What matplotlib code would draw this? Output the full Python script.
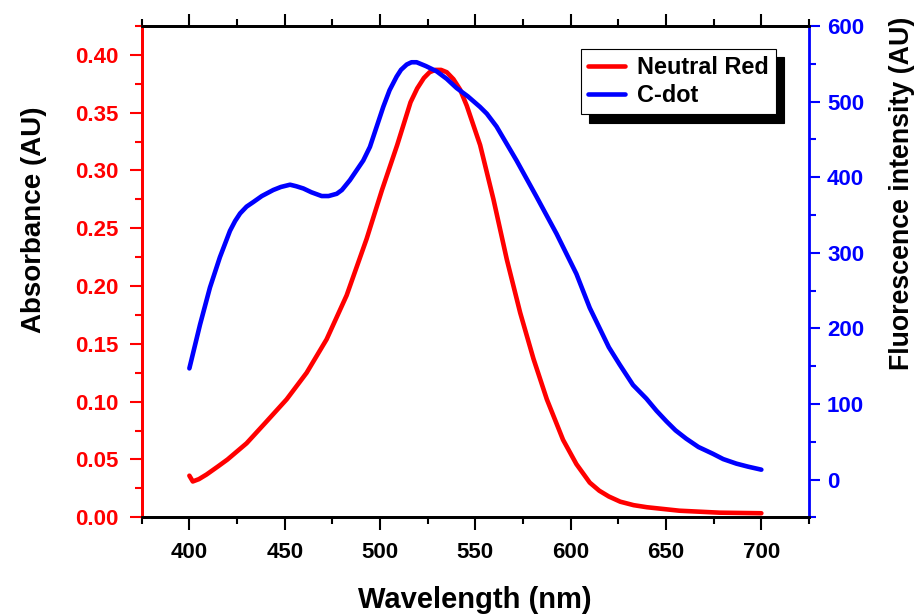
"""
Absorbance of Neutral Red and fluorescence of C-dots vs wavelength
"""
import matplotlib
matplotlib.use('Agg')
import matplotlib.pyplot as plt

plt.rcParams['font.family'] = ['Liberation Sans', 'DejaVu Sans']
plt.rcParams['font.weight'] = 'bold'

# Neutral Red absorbance (left axis)
nr_wl = [400, 401.8, 405, 409, 415, 420, 430, 440, 451, 461.5, 472, 482.5,
         493, 501, 509, 516, 519.5, 523, 526, 529, 532, 535, 538.5, 542, 545.5,
         552.5, 559.5, 566.5, 573.5, 580.5, 587.5, 596, 603, 610, 615, 620,
         626, 633, 640, 657, 678, 700]
nr_abs = [0.036, 0.031, 0.033, 0.037, 0.044, 0.050, 0.064, 0.082, 0.102, 0.125,
          0.154, 0.192, 0.241, 0.283, 0.322, 0.359, 0.371, 0.380, 0.385, 0.387,
          0.387, 0.385, 0.379, 0.370, 0.356, 0.322, 0.275, 0.223, 0.177, 0.137,
          0.102, 0.067, 0.046, 0.030, 0.023, 0.018, 0.0135, 0.0105, 0.0087,
          0.0057, 0.004, 0.0035]

# C-dot fluorescence (right axis)
cd_wl = [400, 405.6, 410.8, 416, 421.3, 424, 426.6, 430, 433.5, 438, 444, 448,
         452.8, 456, 459.8, 464, 469.4, 473, 477.3, 480, 484.2, 491.2, 494.7,
         501.7, 505, 508.7, 511, 514, 516.5, 519.2, 524, 529.7, 535, 540.1,
         546, 552.4, 556, 561.1, 571.6, 582.1, 592.6, 603, 610, 615.2, 620,
         625.7, 632.7, 639.7, 645, 650.2, 655, 660.6, 667, 674.6, 680, 686.9,
         693, 700]
cd_fl = [147, 205, 254, 294, 329, 342, 352, 361, 367, 375, 383, 387, 390, 388,
         385, 380, 375, 375, 378, 383, 396, 422, 440, 493, 515, 533, 542, 549,
         552, 552, 547, 540, 530, 518, 507, 493, 484, 467, 422, 374, 325, 272,
         227, 200, 175, 152, 125, 107, 91, 77, 65, 54, 43, 34, 27, 21, 17, 13]

fig = plt.figure(figsize=(9.16, 6.14), dpi=100)
ax1 = fig.add_axes([0.1547, 0.1575, 0.7285, 0.8002])
ax2 = ax1.twinx()

l1, = ax1.plot(nr_wl, nr_abs, color='red', lw=3.3, solid_joinstyle='round',
               solid_capstyle='round', label='Neutral Red')
l2, = ax2.plot(cd_wl, cd_fl, color='blue', lw=3.3, solid_joinstyle='round',
               solid_capstyle='round', label='C-dot')

ax1.set_xlim(375, 725)
ax1.set_ylim(0, 0.425)
ax2.set_ylim(-50, 600)

ax1.set_xticks(range(400, 701, 50))
ax1.set_xticks(range(375, 726, 25), minor=True)
ax1.set_yticks([i * 0.05 for i in range(9)])
ax1.set_yticks([0.025 + i * 0.05 for i in range(9)], minor=True)
ax1.yaxis.set_major_formatter(matplotlib.ticker.FormatStrFormatter('%.2f'))
ax2.set_yticks(range(0, 601, 100))
ax2.set_yticks(range(-50, 601, 50), minor=True)

for sp in ax1.spines.values():
    sp.set_linewidth(2)
for sp in ax2.spines.values():
    sp.set_linewidth(2)
ax1.spines['left'].set_color('red')
ax2.spines['left'].set_color('red')
ax2.spines['right'].set_color('blue')
ax1.spines['right'].set_visible(False)

ax1.tick_params(axis='x', which='both', top=True, direction='out', width=1.5,
                labelsize=16, pad=9, colors='black')
ax1.tick_params(axis='x', which='major', length=9)
ax1.tick_params(axis='x', which='minor', length=5)
ax1.tick_params(axis='y', which='both', direction='out', width=1.5,
                labelsize=16, pad=8, colors='red')
ax1.tick_params(axis='y', which='major', length=9)
ax1.tick_params(axis='y', which='minor', length=5)
ax2.tick_params(axis='y', which='both', direction='out', width=1.5,
                labelsize=16, pad=5, colors='blue')
ax2.tick_params(axis='y', which='major', length=8)
ax2.tick_params(axis='y', which='minor', length=5)

ax1.set_xlabel('Wavelength (nm)', fontsize=21, fontweight='bold')
ax1.xaxis.set_label_coords(0.4995, -0.140)
ax1.set_ylabel('Absorbance (AU)', fontsize=20, fontweight='bold')
ax1.yaxis.set_label_coords(-0.142, 0.605)
ax2.set_ylabel('Fluorescence intensity (AU)', fontsize=19.3, fontweight='bold')
ax2.yaxis.set_label_coords(1.1199, 0.659)

leg = ax2.legend([l1, l2], ['Neutral Red', 'C-dot'], loc='upper right',
                 bbox_to_anchor=(0.9505, 0.953), borderaxespad=0,
                 fancybox=False, edgecolor='black', framealpha=1,
                 prop={'size': 16.9, 'weight': 'bold'}, handlelength=1.6,
                 handletextpad=0.5, labelspacing=0.22, borderpad=0.3,
                 shadow={'ox': 6, 'oy': -6, 'color': 'black', 'alpha': 1})
leg.get_frame().set_linewidth(0.8)

fig.savefig('out.png', dpi=100)
